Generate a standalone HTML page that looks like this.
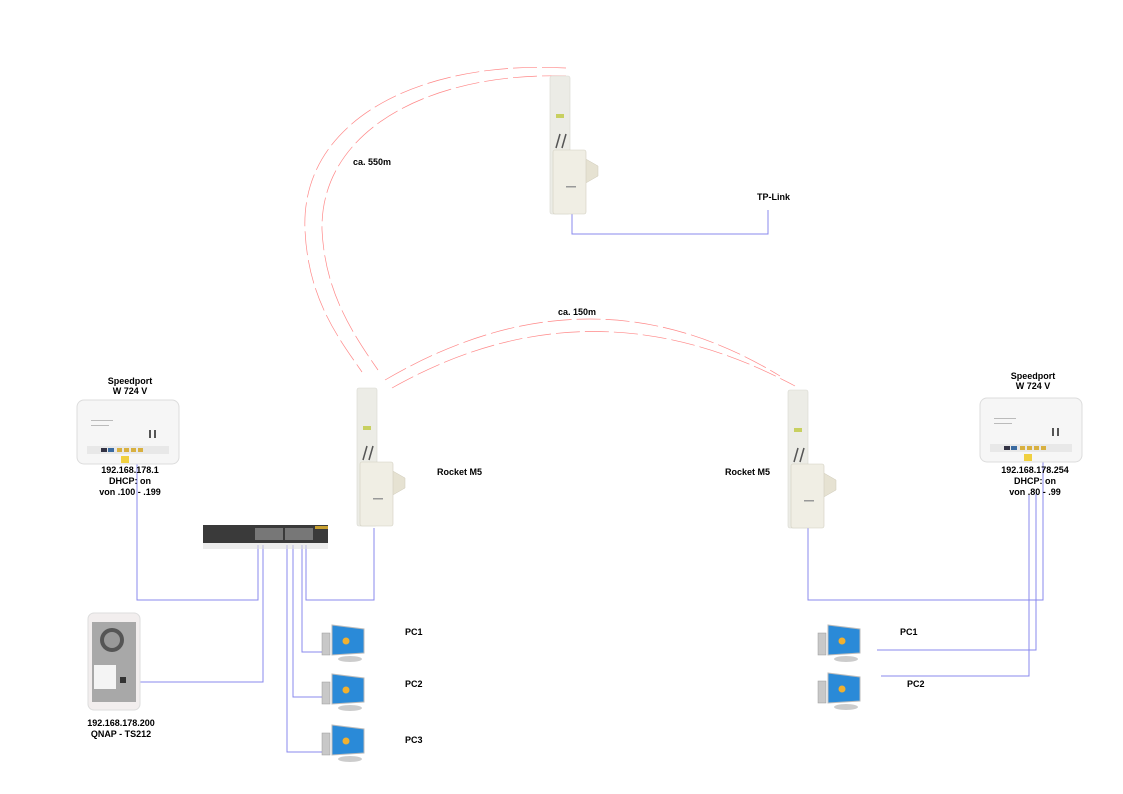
<!DOCTYPE html>
<html><head><meta charset="utf-8"><style>
html,body{margin:0;padding:0;background:#fff}
svg{display:block}
text{font-family:"Liberation Sans",Arial,sans-serif;font-size:9px;font-weight:bold;fill:#000}
</style></head><body>
<svg width="1123" height="794" viewBox="0 0 1123 794" xmlns="http://www.w3.org/2000/svg">
<defs>
<g id="ant">
  <rect x="0" y="0" width="20" height="138" rx="2" fill="#ecece6" stroke="#d8d8d0" stroke-width="0.6"/>
  <rect x="6" y="38" width="8" height="4" fill="#c8d060"/>
  <path d="M6 72 L10 58 M12 72 L16 58" stroke="#555" stroke-width="1.5" fill="none"/>
  <path d="M34 82 L48 90 L48 100 L34 108 Z" fill="#e6e2d2" stroke="#cfcab8" stroke-width="0.5"/>
  <rect x="3" y="74" width="33" height="64" rx="2" fill="#f0eee4" stroke="#d2cfc0" stroke-width="0.6"/>
  <rect x="16" y="110" width="10" height="1.5" fill="#999"/>
</g>
<g id="router">
  <rect x="0" y="0" width="102" height="64" rx="7" fill="#f6f6f6" stroke="#dcdcdc"/>
  <rect x="10" y="46" width="82" height="8" fill="#e8e8e8"/>
  <rect x="24" y="48" width="6" height="4" fill="#334"/>
  <rect x="31" y="48" width="6" height="4" fill="#3a6aa0"/>
  <rect x="40" y="48" width="5" height="4" fill="#d8b040"/>
  <rect x="47" y="48" width="5" height="4" fill="#d8b040"/>
  <rect x="54" y="48" width="5" height="4" fill="#d8b040"/>
  <rect x="61" y="48" width="5" height="4" fill="#d8b040"/>
  <rect x="72" y="30" width="2" height="8" fill="#555"/><rect x="77" y="30" width="2" height="8" fill="#555"/>
  <rect x="14" y="20" width="22" height="1" fill="#bbb"/><rect x="14" y="25" width="18" height="1" fill="#bbb"/>
  <rect x="44" y="56" width="8" height="7" fill="#f0d040"/>
</g>
<g id="pc">
  <rect x="0" y="8" width="8" height="22" fill="#c8c8c8" stroke="#999" stroke-width="0.5"/>
  <path d="M10 0 L42 4 L42 28 L10 30 Z" fill="#2a8ad8" stroke="#bbb" stroke-width="1"/>
  <circle cx="24" cy="16" r="3.5" fill="#f0b030"/>
  <ellipse cx="28" cy="34" rx="12" ry="3" fill="#ccc"/>
</g>
</defs>

<!-- red dashed arcs -->
<g fill="none" stroke="#f88" stroke-width="0.7" stroke-dasharray="24,5">
  <path d="M566 68 C420 60 300 120 305 230 C308 300 340 340 362 372"/>
  <path d="M566 76 C430 72 320 130 322 230 C325 290 350 330 378 370"/>
  <path d="M385 380 Q590 260 780 376"/>
  <path d="M392 388 Q590 276 795 386"/>
</g>

<!-- blue lines -->
<g fill="none" stroke="#8888ee" stroke-width="1">
  <path d="M572 212 V234 H768 V210"/>
  <path d="M137 456 V600 H258 V545"/>
  <path d="M374 528 V600 H306 V545"/>
  <path d="M263 545 V682 H124"/>
  <path d="M287 545 V752 H330"/>
  <path d="M293 545 V697 H330"/>
  <path d="M302 545 V652 H330"/>
  <path d="M808 527 V600 H1043 V455"/>
  <path d="M1036 494 V650 H877"/>
  <path d="M1029 494 V676 H881"/>
</g>

<use href="#ant" x="550" y="76"/>
<use href="#ant" x="357" y="388"/>
<use href="#ant" x="788" y="390"/>

<use href="#router" x="77" y="400"/>
<use href="#router" x="980" y="398"/>

<rect x="203" y="525" width="125" height="18" fill="#3a3a3a"/>
<rect x="203" y="543" width="125" height="6" fill="#e0e0e0" opacity="0.6"/>
<rect x="315" y="526" width="13" height="3" fill="#c8a030"/>
<g fill="#777"><rect x="255" y="528" width="28" height="12"/><rect x="285" y="528" width="28" height="12"/></g>

<rect x="88" y="613" width="52" height="97" rx="6" fill="#f2eeee" stroke="#ddd"/>
<rect x="92" y="622" width="44" height="80" fill="#a8a8a8"/>
<circle cx="112" cy="640" r="12" fill="#555"/><circle cx="112" cy="640" r="8" fill="#999"/>
<rect x="94" y="665" width="22" height="24" fill="#f4f4f4"/>
<rect x="120" y="677" width="6" height="6" fill="#333"/>

<use href="#pc" x="322" y="625"/>
<use href="#pc" x="322" y="674"/>
<use href="#pc" x="322" y="725"/>
<use href="#pc" x="818" y="625"/>
<use href="#pc" x="818" y="673"/>

<text x="353" y="165">ca. 550m</text>
<text x="558" y="315">ca. 150m</text>
<text x="757" y="200">TP-Link</text>
<text x="437" y="475">Rocket M5</text>
<text x="725" y="475">Rocket M5</text>
<g text-anchor="middle">
<text x="130" y="384">Speedport</text><text x="130" y="394">W 724 V</text>
<text x="130" y="473">192.168.178.1</text><text x="130" y="484">DHCP: on</text><text x="130" y="495">von .100 - .199</text>
<text x="1033" y="379">Speedport</text><text x="1033" y="389">W 724 V</text>
<text x="1035" y="473">192.168.178.254</text><text x="1035" y="484">DHCP: on</text><text x="1035" y="495">von .80 - .99</text>
<text x="121" y="726">192.168.178.200</text><text x="121" y="737">QNAP - TS212</text>
</g>
<text x="405" y="635">PC1</text>
<text x="405" y="687">PC2</text>
<text x="405" y="743">PC3</text>
<text x="900" y="635">PC1</text>
<text x="907" y="687">PC2</text>
</svg>
</body></html>
